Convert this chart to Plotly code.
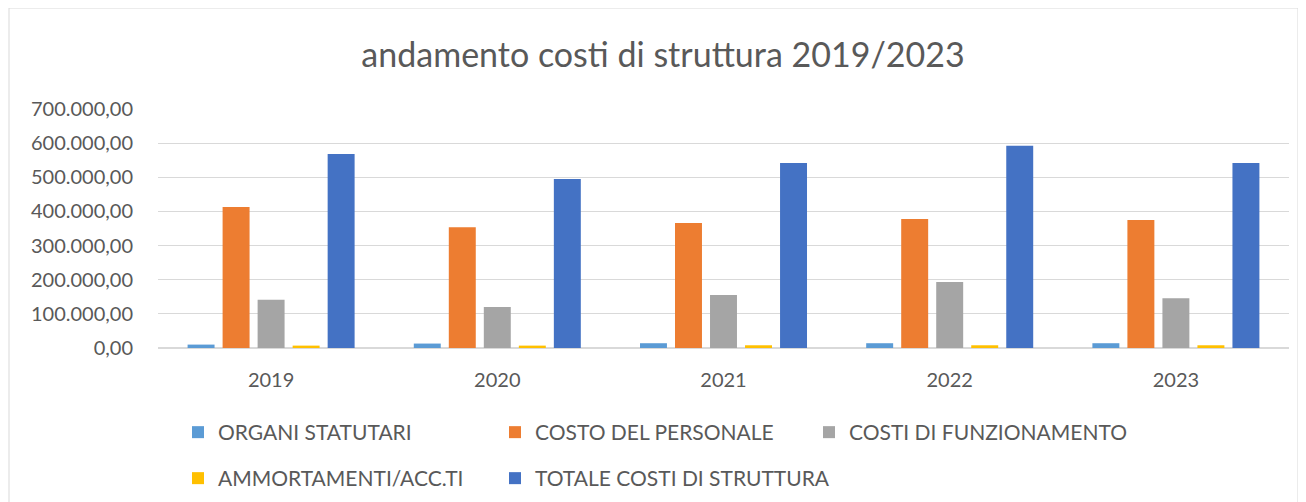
import plotly.graph_objects as go

years = ["2019", "2020", "2021", "2022", "2023"]
organi = [10000, 13000, 14000, 14000, 14000]
personale = [413000, 354000, 366000, 378000, 375000]
funzionamento = [141000, 120000, 155000, 193000, 146000]
ammortamenti = [7000, 7000, 8000, 8000, 8000]
totale = [568000, 495000, 542000, 592000, 542000]

series = [
    ("ORGANI STATUTARI", organi, "#5B9BD5"),
    ("COSTO DEL PERSONALE", personale, "#ED7D31"),
    ("COSTI DI FUNZIONAMENTO", funzionamento, "#A5A5A5"),
    ("AMMORTAMENTI/ACC.TI", ammortamenti, "#FFC000"),
    ("TOTALE COSTI DI STRUTTURA", totale, "#4472C4"),
]

tickvals = [0, 100000, 200000, 300000, 400000, 500000, 600000, 700000]
ticktext = ["0,00", "100.000,00", "200.000,00", "300.000,00", "400.000,00",
            "500.000,00", "600.000,00", "700.000,00"]

FONT = "Lato"
TXT = "#595959"

# page body has an 8px margin; work in figure coordinates
W, H = 1298, 494
L, R, T, B = 150, 17, 101, 154
pw = W - L - R
ph = H - T - B

def px_x(p):
    return (p - L) / pw

def px_y(p):
    return (H - B - p) / ph

# legend slot positions (figure pixels): column x, row top y
leg_pos = [(170, 404), (487, 404), (801, 404), (170, 450), (487, 450)]

fig = go.Figure()
legends = {}
for i, (name, vals, col) in enumerate(series):
    key = "legend" if i == 0 else f"legend{i + 1}"
    fig.add_trace(go.Bar(name=name, x=years, y=vals, marker_color=col,
                         marker_line_width=0, legend=key))
    lx, ly = leg_pos[i]
    legends[key] = dict(orientation="h", xanchor="left", yanchor="top",
                        x=px_x(lx), y=px_y(ly),
                        font=dict(family=FONT, size=21, color=TXT),
                        bgcolor="rgba(0,0,0,0)")

fig.update_layout(
    width=W, height=H,
    margin=dict(l=L, r=R, t=T, b=B, autoexpand=False),
    paper_bgcolor="white", plot_bgcolor="white",
    barmode="group", bargap=0.226, bargroupgap=0.23,
    title=dict(text="andamento costi di struttura 2019/2023",
               x=655 / W, xref="container", xanchor="center",
               y=1 - 47 / H, yref="container", yanchor="middle",
               font=dict(family=FONT, size=34, color=TXT)),
    font=dict(family=FONT, color=TXT),
    xaxis=dict(showgrid=False, ticks="", tickfont=dict(size=20, color=TXT),
               showline=False, zeroline=False, ticklabelstandoff=18),
    yaxis=dict(range=[0, 700000], tickvals=tickvals, ticktext=ticktext,
               tickfont=dict(size=20, color=TXT), gridcolor="#D9D9D9",
               gridwidth=1, zeroline=True, zerolinecolor="#D9D9D9", zerolinewidth=2,
               showline=False, ticks="", ticklabelstandoff=24),
    showlegend=True,
    shapes=[dict(type="rect", xref="paper", yref="paper",
                 x0=px_x(1), x1=px_x(1290), y0=px_y(520), y1=px_y(0),
                 line=dict(color="#D9D9D9", width=1), fillcolor="rgba(0,0,0,0)",
                 layer="below")],
    **legends,
)

fig.write_html("out.html")
